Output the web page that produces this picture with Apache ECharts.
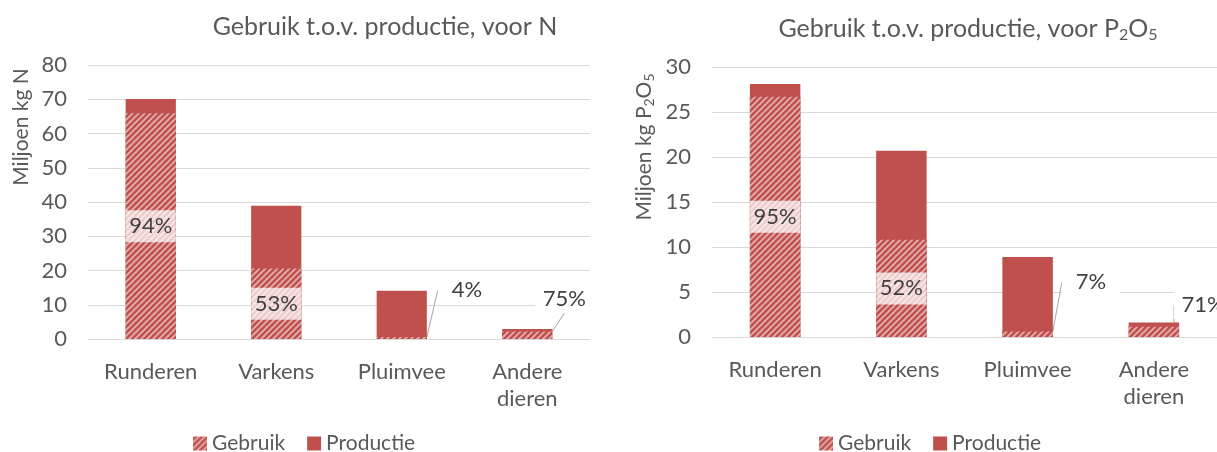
<!DOCTYPE html>
<html>
<head>
<meta charset="utf-8">
<script src="https://cdn.jsdelivr.net/npm/echarts@6/dist/echarts.min.js"></script>
<style>
  html, body { margin: 0; padding: 0; background: #fff; }
  #chart { width: 1217px; height: 452px; }
</style>
</head>
<body>
<div id="chart"></div>
<script>
// categories and values
const categories = ['Runderen', 'Varkens', 'Pluimvee', 'Andere\ndieren'];
const productieN = [70.1, 38.9, 14.1, 2.9];
const gebruikN = [65.9, 20.6, 0.6, 2.2];
const percentN = ['94%', '53%', '4%', '75%'];
const productieP = [28.1, 20.7, 8.9, 1.6];
const gebruikP = [26.7, 10.8, 0.62, 1.14];
const percentP = ['95%', '52%', '7%', '71%'];

// labels moved out of small bars: offset from bar's right/bottom corner
const outsideN = {2: [40, -49], 3: [12, -40]};
const outsideP = {2: [38, -55], 3: [24, -32]};

const RED = '#C0504D';
const FONT = 'Lato';
const GREY = '#595959';

function hatch() {
    let c = document.createElement('canvas');
    c.width = 6;
    c.height = 6;
    let g = c.getContext('2d');
    g.fillStyle = RED;
    g.fillRect(0, 0, 6, 6);
    g.strokeStyle = 'rgba(255,255,255,0.55)';
    g.lineWidth = 1.7;
    for (let k = -1; k <= 1; k++) {
        g.beginPath();
        g.moveTo(k * 6 - 1, 7);
        g.lineTo(k * 6 + 7, -1);
        g.stroke();
    }
    return c;
}
const hatchFill = {image: hatch(), repeat: 'repeat'};

function gebruikData(values, outside) {
    return values.map(function (v, i) {
        if (outside[i]) {
            return {value: v, label: {backgroundColor: '#fff', width: null, padding: [3, 4]}};
        }
        return v;
    });
}

function makeLayout(outside) {
    return function (params) {
        let o = outside[params.dataIndex];
        if (!o) return {};
        return {
            x: params.rect.x + params.rect.width + o[0],
            y: params.rect.y + params.rect.height + o[1],
            align: 'center',
            verticalAlign: 'middle'
        };
    };
}

function gebruikSeries(name, idx, values, pct, outside) {
    return {
        name: name,
        type: 'bar',
        xAxisIndex: idx,
        yAxisIndex: idx,
        barWidth: '40%',
        barGap: '-100%',
        itemStyle: {color: hatchFill},
        data: gebruikData(values, outside),
        label: {
            show: true,
            position: 'inside',
            formatter: function (p) { return pct[p.dataIndex]; },
            fontFamily: FONT,
            fontSize: 22,
            color: '#404040',
            backgroundColor: 'rgba(255,255,255,0.72)',
            width: 50,
            align: 'center',
            padding: [5, 0]
        },
        labelLine: {show: true, lineStyle: {color: '#a6a6a6', width: 1}},
        labelLayout: makeLayout(outside)
    };
}

function productieSeries(name, idx, values) {
    return {
        name: name,
        type: 'bar',
        xAxisIndex: idx,
        yAxisIndex: idx,
        barWidth: '40%',
        barGap: '-100%',
        itemStyle: {color: RED},
        data: values
    };
}

function xAxis(idx) {
    return {
        type: 'category',
        gridIndex: idx,
        data: categories,
        axisLine: {lineStyle: {color: '#d9d9d9'}},
        axisTick: {show: false},
        axisLabel: {fontFamily: FONT, fontSize: 22, color: GREY, margin: 19, lineHeight: 27}
    };
}

function yAxis(idx, max, interval, name, shift) {
    return {
        type: 'value',
        gridIndex: idx,
        min: 0,
        max: max,
        interval: interval,
        name: name,
        nameLocation: 'middle',
        nameRotate: 90,
        nameGap: 56,
        nameTextStyle: {
            fontFamily: FONT, fontSize: 21, color: GREY, padding: [0, 0, 0, shift],
            rich: {s: {fontFamily: FONT, fontSize: 14, color: GREY, padding: [10, 0, 0, 0]}}
        },
        axisLine: {show: false},
        axisTick: {show: false},
        axisLabel: {fontFamily: FONT, fontSize: 22, color: GREY, margin: 21},
        splitLine: {lineStyle: {color: '#d9d9d9', width: 1}}
    };
}

function legend(left) {
    return {
        left: left,
        top: 428,
        icon: 'rect',
        itemWidth: 14,
        itemHeight: 14,
        itemGap: 22,
        textStyle: {fontFamily: FONT, fontSize: 21, color: GREY},
        data: ['Gebruik', 'Productie']
    };
}

let chart = echarts.init(document.getElementById('chart'));
chart.setOption({
    animation: false,
    backgroundColor: '#fff',
    title: [
        {
            text: 'Gebruik t.o.v. productie, voor N',
            left: 380, top: 9, textAlign: 'center',
            textStyle: {fontFamily: FONT, fontSize: 25, fontWeight: 'normal', color: GREY}
        },
        {
            text: 'Gebruik t.o.v. productie, voor P{s|2}O{s|5}',
            left: 963, top: 9, textAlign: 'center',
            textStyle: {
                fontFamily: FONT, fontSize: 25, fontWeight: 'normal', color: GREY,
                rich: {s: {fontFamily: FONT, fontSize: 16, color: GREY, padding: [13, 0, 0, 0]}}
            }
        }
    ],
    legend: [legend(188), legend(814)],
    grid: [
        {left: 88, right: 627, top: 65, bottom: 113},
        {left: 712, right: 0, top: 67, bottom: 115}
    ],
    xAxis: [xAxis(0), xAxis(1)],
    yAxis: [
        yAxis(0, 80, 10, 'Miljoen kg N', 150),
        yAxis(1, 30, 5, 'Miljoen kg P{s|2}O{s|5}', 110)
    ],
    series: [
        productieSeries('Productie', 0, productieN),
        gebruikSeries('Gebruik', 0, gebruikN, percentN, outsideN),
        productieSeries('Productie', 1, productieP),
        gebruikSeries('Gebruik', 1, gebruikP, percentP, outsideP)
    ]
});
</script>
</body>
</html>
